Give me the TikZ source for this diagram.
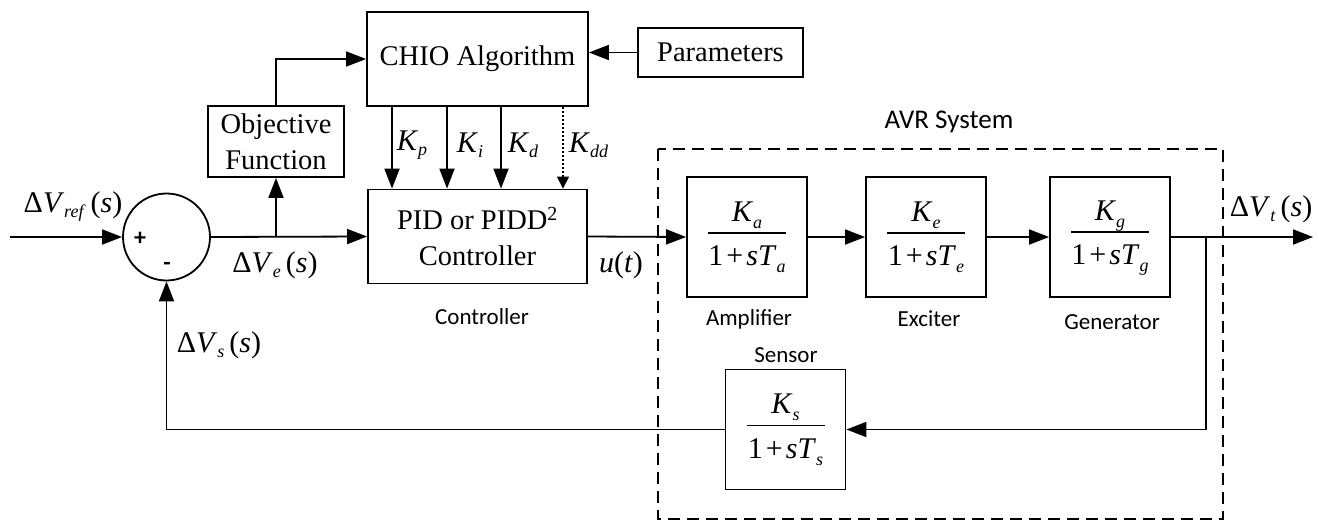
\documentclass[tikz,border=0pt]{standalone}
\usepackage{fontspec}
\setmainfont{Liberation Serif}
\newfontfamily\calib{Carlito}
\usetikzlibrary{arrows.meta}
\newcommand\sub[2][5pt]{\raisebox{-#1}{\fontsize{18}{20}\selectfont\textit{#2}}}
\newcommand\tfr[1]{\vbox{\offinterlineskip\halign{\hfil##\hfil\cr
  \rule[-11pt]{0pt}{33pt}\textit{K}\sub[7pt]{#1}\cr
  \rule{78pt}{1.8pt}\cr
  \rule[-9pt]{0pt}{41pt}1\kern3pt+\kern3pt\textit{sT}\sub[7pt]{#1}\cr}}}
\begin{document}
\begin{tikzpicture}[x=1pt,y=-1pt,
  line width=1.8pt,
  arr/.style={-{Triangle[length=20pt,width=15pt]}},
  darr/.style={line width=1.2pt, dash pattern=on 2pt off 2pt, -{Triangle[length=12pt,width=12pt]}},
  blk/.style={draw, line width=1.8pt, inner sep=0pt, align=center, font=\fontsize{28.5}{36}\selectfont},
  tf/.style={draw, line width=1.8pt, minimum width=120pt, minimum height=120pt, inner sep=0pt, font=\fontsize{30}{36}\selectfont},
  mlab/.style={inner sep=0pt, font=\fontsize{30}{36}\selectfont},
  slab/.style={inner sep=0pt, font=\calib\fontsize{23}{28}\selectfont},
  sgn/.style={inner sep=0pt, font=\calib\bfseries\fontsize{24}{28}\selectfont},
]
\useasboundingbox (0,0) rectangle (1319,522);

% AVR system frame
\draw[line width=1.8pt, dash pattern=on 12pt off 7pt] (658,149) rectangle (1223,519);
\node[slab, font=\calib\fontsize{27}{32}\selectfont] (avrlab) at (949,122) {AVR System};

% blocks
\node[circle, draw, minimum size=87pt, inner sep=0pt] (sum) at (166.5,237) {};
\node[sgn] (plus) at (140,239) {+};
\node[sgn] (minus) at (167,266) {-};
\node[blk, minimum width=221pt, minimum height=94pt] (chio) at (477.5,59) {CHIO Algorithm};
\node[blk, minimum width=165pt, minimum height=49pt] (par) at (720.5,52.5) {Parameters};
\node[blk, minimum width=136pt, minimum height=71pt] (obj) at (276,141.5) {Objective\\Function};
\node[blk, minimum width=219pt, minimum height=94pt] (pid) at (477.5,236.5) {PID or PIDD\textsuperscript{2}\\Controller};
\node[tf] (amp) at (747,237) {\tfr{a}};
\node[tf] (exc) at (926,237) {\tfr{e}};
\node[tf] (gen) at (1110,237) {\tfr{g}};
\node[tf] (sen) at (785.5,429.5) {\tfr{s}};

% coordinates
\coordinate (in) at (10,237);
\coordinate (out) at (1313,237);
\coordinate (tap) at (1206,237);
\coordinate (br) at (obj.south |- sum.east);

% connectors
\draw[arr] (in) -- (sum.west);
\draw[arr] (sum.east) -- (pid.west);
\draw[arr] (br) -- (obj.south);
\draw[arr] (obj.north) |- (chio.west);
\draw[arr] (par.west) -- (par.west -| chio.east);
\draw[arr] ([xshift=-85.5pt]chio.south) -- ([xshift=-85.5pt]pid.north);
\draw[arr] ([xshift=-30.5pt]chio.south) -- ([xshift=-30.5pt]pid.north);
\draw[arr] ([xshift=23.5pt]chio.south) -- ([xshift=23.5pt]pid.north);
\draw[darr] ([xshift=85.5pt]chio.south) -- ([xshift=85.5pt]pid.north);
\draw[arr] (pid.east) -- (amp.west);
\draw[arr] (amp.east) -- (exc.west);
\draw[arr] (exc.east) -- (gen.west);
\draw[arr] (gen.east) -- (out);
\draw[arr] (tap) |- (sen.east);
\draw[arr] (sen.west) -| (sum.south);

% labels
\node[mlab] (lref) at (73,207) {Δ\textit{V}\sub{ref}\,(\textit{s})};
\node[mlab] (le) at (275,265) {Δ\textit{V}\sub{e}\,(\textit{s})};
\node[mlab] (ls) at (219,345) {Δ\textit{V}\sub{s}\,(\textit{s})};
\node[mlab] (lt) at (1271,209) {Δ\textit{V}\sub{t}\,(\textit{s})};
\node[mlab] (lu) at (621,265) {\textit{u}(\textit{t})};
\node[mlab, anchor=west] (kp) at (396,145) {\textit{K}\sub{p}};
\node[mlab, anchor=west] (ki) at (456,145) {\textit{K}\sub{i}};
\node[mlab, anchor=west] (kd) at (507,145) {\textit{K}\sub{d}};
\node[mlab, anchor=west] (kdd) at (568,145) {\textit{K}\sub{dd}};
\node[slab] (lctrl) at (482,317) {Controller};
\node[slab] (lamp) at (749,319) {Amplifier};
\node[slab] (lexc) at (929,319) {Exciter};
\node[slab] (lgen) at (1112,322) {Generator};
\node[slab] (lsen) at (786,355) {Sensor};
\end{tikzpicture}
\end{document}
